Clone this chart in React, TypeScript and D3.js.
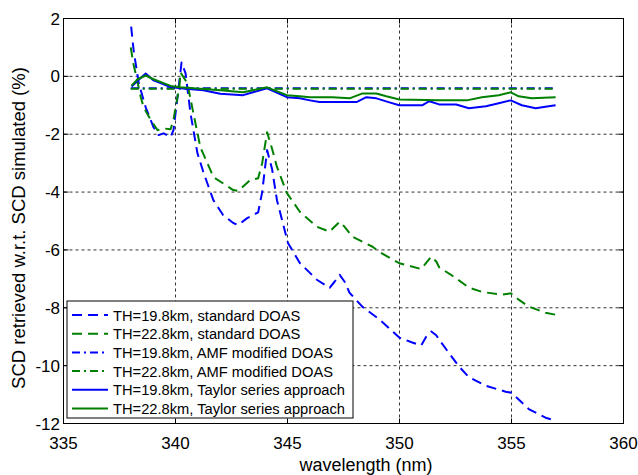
import React from "react";
import * as d3 from "d3";

const xTicks = [335, 340, 345, 350, 355, 360];
const yTicks = [2, 0, -2, -4, -6, -8, -10, -12];

const stdBlueWl = [338.02,338.13,338.36,338.67,339.02,339.25,339.47,339.78,339.91,340.09,340.27,340.45,340.67,340.98,341.24,341.69,342.13,342.58,342.8,343.2,343.69,343.87,344.09,344.31,344.53,345.02,345.55,346.31,346.88,347.1,347.33,347.55,347.77,348.35,349.1,349.99,350.57,350.97,351.19,351.42,351.64,351.86,352.66,353.1,353.86,354.74,355.01,355.32,355.77,356.52,356.97];
const stdBlueVal = [1.72,0.9,-0.24,-1.07,-1.76,-2.03,-1.97,-2.1,-1.86,-0.72,0.48,0.1,-1.28,-2.66,-3.3,-4.28,-4.8,-5.07,-5.14,-4.9,-4.7,-4.0,-2.55,-3.2,-4.28,-5.76,-6.45,-7.03,-7.31,-7.1,-6.86,-7.1,-7.48,-7.97,-8.4,-9.03,-9.2,-9.3,-9.0,-8.82,-8.95,-9.2,-10.03,-10.4,-10.7,-10.9,-10.94,-11.17,-11.5,-11.8,-11.9];

const stdGreenWl = [338.0,338.13,338.22,338.45,338.58,338.89,339.2,339.47,339.78,339.91,340.18,340.22,340.53,340.8,341.11,341.56,341.69,342.58,342.8,343.33,343.69,343.87,344.09,344.31,344.53,344.97,345.55,346.31,346.88,347.1,347.33,347.55,347.91,348.8,349.1,349.99,350.97,351.19,351.42,351.64,351.77,352.3,353.1,353.68,354.57,354.97,355.32,355.77,356.52,356.97];
const stdGreenVal = [1.0,0.4,0.1,-0.72,-1.07,-1.5,-1.86,-1.8,-1.83,-1.5,-0.3,0.14,-0.24,-1.28,-2.45,-3.24,-3.48,-3.93,-3.96,-3.59,-3.52,-3.0,-1.93,-2.5,-3.13,-4.03,-4.68,-5.2,-5.37,-5.2,-5.03,-5.2,-5.55,-5.89,-6.07,-6.46,-6.66,-6.45,-6.23,-6.4,-6.6,-6.86,-7.3,-7.45,-7.55,-7.5,-7.72,-7.96,-8.17,-8.24];

const amfBlueWl = [338.0, 340.0, 345.0, 350.0, 355.0, 357.0];
const amfBlueVal = [-0.41, -0.41, -0.41, -0.41, -0.41, -0.41];
const amfGreenWl = [338.0, 340.0, 345.0, 350.0, 355.0, 357.0];
const amfGreenVal = [-0.43, -0.43, -0.43, -0.43, -0.43, -0.43];

const taylorBlueWl = [338.04,338.31,338.67,339.02,339.78,340.22,341.24,342.0,343.02,343.46,344.09,344.97,345.55,346.0,346.43,347.77,348.08,348.52,348.97,349.55,349.99,351.01,351.33,351.77,352.53,353.1,353.86,354.43,354.97,355.46,356.08,356.66,356.97];
const taylorBlueVal = [-0.35,-0.15,0.1,-0.14,-0.37,-0.41,-0.48,-0.6,-0.65,-0.55,-0.41,-0.72,-0.76,-0.83,-0.89,-0.89,-0.89,-0.72,-0.76,-0.9,-1.0,-1.0,-0.86,-0.97,-0.97,-1.1,-1.03,-0.93,-0.83,-1.0,-1.1,-1.03,-1.0];

const taylorGreenWl = [338.04,338.31,338.67,339.02,339.78,340.22,341.24,342.0,343.02,343.46,344.09,344.97,345.55,346.0,347.0,347.77,348.35,348.97,349.41,349.99,351.77,353.0,353.68,354.43,354.97,355.32,355.9,356.97];
const taylorGreenVal = [-0.32,-0.1,0.03,-0.1,-0.33,-0.38,-0.44,-0.48,-0.55,-0.48,-0.38,-0.65,-0.69,-0.72,-0.72,-0.76,-0.59,-0.59,-0.69,-0.8,-0.83,-0.83,-0.72,-0.65,-0.55,-0.69,-0.76,-0.72];

const legendLabels = [
  "TH=19.8km, standard DOAS",
  "TH=22.8km, standard DOAS",
  "TH=19.8km, AMF modified DOAS",
  "TH=22.8km, AMF modified DOAS",
  "TH=19.8km, Taylor series approach",
  "TH=22.8km, Taylor series approach",
];

const BLUE = "#0000ff";
const GREEN = "#008000";
const DASH = "10,6";
const DASHDOT = "8,4,2,4";

const series = [
  { wl: stdBlueWl, val: stdBlueVal, color: BLUE, dash: DASH },
  { wl: stdGreenWl, val: stdGreenVal, color: GREEN, dash: DASH },
  { wl: amfBlueWl, val: amfBlueVal, color: BLUE, dash: DASHDOT },
  { wl: amfGreenWl, val: amfGreenVal, color: GREEN, dash: DASHDOT },
  { wl: taylorBlueWl, val: taylorBlueVal, color: BLUE, dash: undefined },
  { wl: taylorGreenWl, val: taylorGreenVal, color: GREEN, dash: undefined },
];

export default function App() {
  const W = 638, H = 475;
  const L = 63.5, R = 623.5, T = 18.5, B = 423.5;
  const x = d3.scaleLinear().domain([335, 360]).range([L, R]);
  const y = d3.scaleLinear().domain([-12, 2]).range([B, T]);
  const font = "'Liberation Sans', Arial, Helvetica, sans-serif";

  const lineGen = d3.line<[number, number]>().x((d) => x(d[0])).y((d) => y(d[1]));

  const lgX = 67, lgY = 301, lgW = 286, lgH = 117;
  const rowH = 18.7;

  return (
    <svg width={W} height={H} style={{ position: "absolute", left: 0, top: 0 }} fontFamily={font}>
      <rect x={0} y={0} width={W} height={H} fill="#fff" />
      <rect x={L} y={T} width={R - L} height={B - T} fill="#fff" />
      {xTicks.slice(1, -1).map((t) => (
        <line key={"gx" + t} x1={x(t)} x2={x(t)} y1={T} y2={B} stroke="#333" strokeWidth={1} strokeDasharray="3,3" />
      ))}
      {yTicks.slice(1, -1).map((t) => (
        <line key={"gy" + t} x1={L} x2={R} y1={y(t)} y2={y(t)} stroke="#333" strokeWidth={1} strokeDasharray="3,3" />
      ))}
      {series.map((s, i) => (
        <path
          key={"s" + i}
          d={lineGen(s.wl.map((w, j) => [w, s.val[j]] as [number, number])) || ""}
          fill="none"
          stroke={s.color}
          strokeWidth={2}
          strokeDasharray={s.dash}
          strokeLinejoin="round"
        />
      ))}
      <rect x={L} y={T} width={R - L} height={B - T} fill="none" stroke="#000" strokeWidth={1} />
      {xTicks.map((t) => (
        <g key={"xt" + t}>
          <line x1={x(t)} x2={x(t)} y1={B} y2={B - 5} stroke="#000" />
          <line x1={x(t)} x2={x(t)} y1={T} y2={T + 5} stroke="#000" />
          <text x={x(t)} y={448.5} fontSize={17} textAnchor="middle" fill="#000">{t}</text>
        </g>
      ))}
      {yTicks.map((t) => (
        <g key={"yt" + t}>
          <line x1={L} x2={L + 5} y1={y(t)} y2={y(t)} stroke="#000" />
          <line x1={R} x2={R - 5} y1={y(t)} y2={y(t)} stroke="#000" />
          <text x={60} y={y(t) + 6} fontSize={17} textAnchor="end" fill="#000">{t}</text>
        </g>
      ))}
      <text x={366} y={471} fontSize={18} textAnchor="middle" fill="#000">wavelength (nm)</text>
      <text
        transform={`translate(25,228) rotate(-90)`}
        fontSize={18.5}
        textAnchor="middle"
        fill="#000"
      >
        SCD retrieved w.r.t. SCD simulated (%)
      </text>
      <rect x={lgX} y={lgY} width={lgW} height={lgH} fill="#fff" stroke="#000" strokeWidth={1} />
      {legendLabels.map((lab, i) => {
        const s = series[i];
        const cy = lgY + 14 + i * rowH;
        return (
          <g key={"lg" + i}>
            <line x1={lgX + 5} x2={lgX + 41} y1={cy} y2={cy} stroke={s.color} strokeWidth={2} strokeDasharray={s.dash} />
            <text x={lgX + 46} y={cy + 5.5} fontSize={14.7} fill="#000">{lab}</text>
          </g>
        );
      })}
    </svg>
  );
}
